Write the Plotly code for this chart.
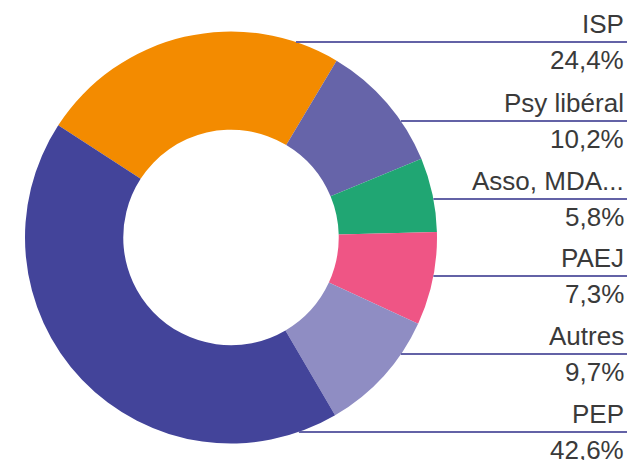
import math
import plotly.graph_objects as go

# ---- data ----
labels = ["ISP", "Psy libéral", "Asso, MDA...", "PAEJ", "Autres", "PEP"]
values = [24.4, 10.2, 5.8, 7.3, 9.7, 42.6]
pct_labels = ["24,4%", "10,2%", "5,8%", "7,3%", "9,7%", "42,6%"]
colors = ["#f38b00", "#6664a9", "#20a673", "#ef5585", "#8f8dc3", "#43449a"]

# ---- layout constants (pixels) ----
W, H = 631, 460
cx, cy, R = 231, 237.5, 206
line_y = [42, 121, 199, 276, 354, 432]
x_right = 627
text_right = 626
FONT = "Liberation Sans, Arial, Helvetica, sans-serif"

dom_x = [(cx - R) / W, (cx + R) / W]
dom_y = [1 - (cy + R) / H, 1 - (cy - R) / H]

fig = go.Figure(
    go.Pie(
        labels=labels,
        values=values,
        hole=0.523,
        sort=False,
        direction="clockwise",
        rotation=-57,
        marker=dict(colors=colors, line=dict(width=0)),
        textinfo="none",
        hoverinfo="label+percent",
        domain=dict(x=dom_x, y=dom_y),
        showlegend=False,
    )
)

shapes = []
annotations = []
for name, pct, ly in zip(labels, pct_labels, line_y):
    dy = ly - cy
    x0 = cx + math.sqrt(max(R * R - dy * dy, 0))
    shapes.append(
        dict(
            type="line", xref="paper", yref="paper",
            x0=x0 / W, x1=x_right / W, y0=1 - ly / H, y1=1 - ly / H,
            line=dict(color="#6362a6", width=2),
        )
    )
    annotations.append(
        dict(
            text=name, xref="paper", yref="paper",
            x=text_right / W, y=1 - (ly - 18) / H,
            xanchor="right", yanchor="middle", showarrow=False,
            font=dict(family=FONT, size=26, color="#3a3a3a"),
        )
    )
    annotations.append(
        dict(
            text=pct, xref="paper", yref="paper",
            x=text_right / W, y=1 - (ly + 18) / H,
            xanchor="right", yanchor="middle", showarrow=False,
            font=dict(family=FONT, size=26, color="#3a3a3a"),
        )
    )

fig.update_layout(
    width=W, height=H, autosize=False,
    margin=dict(l=0, r=0, t=0, b=0),
    paper_bgcolor="white", plot_bgcolor="white",
    shapes=shapes, annotations=annotations,
)

fig.write_html(
    "out.html",
    config={"displayModeBar": False},
    post_script="document.body.style.margin='0';document.body.style.padding='0';document.body.style.overflow='hidden';",
)
